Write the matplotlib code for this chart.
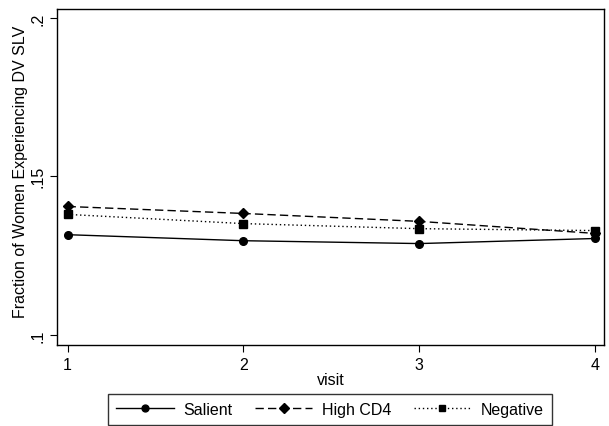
import matplotlib
matplotlib.use("Agg")
import matplotlib.pyplot as plt

plt.rcParams["font.family"] = ["Liberation Sans", "DejaVu Sans"]

visits = [1, 2, 3, 4]
salient = [0.1316, 0.1297, 0.1288, 0.1304]
high_cd4 = [0.1405, 0.1383, 0.1358, 0.1320]
negative = [0.1380, 0.1351, 0.1335, 0.1329]
y_ticks = [0.1, 0.15, 0.2]
y_tick_labels = [".1", ".15", ".2"]

FS = 11.5

fig = plt.figure(figsize=(6.09, 4.27), dpi=100)
ax = fig.add_axes([57 / 609, 1 - 346 / 427, (604 - 57) / 609, (346 - 10) / 427])

ax.plot(visits, salient, color="black", lw=1.0, marker="o", ms=5.5, label="Salient")
ax.plot(visits, high_cd4, color="black", lw=1.0, ls=(0, (6, 3)), marker="D", ms=5.5, label="High CD4")
ax.plot(visits, negative, color="black", lw=1.0, ls=(0, (1, 2)), marker="s", ms=5.5, label="Negative")

ax.set_xlim(0.94, 4.05)
ax.set_ylim(0.0968, 0.2028)
ax.set_xticks(visits)
ax.set_yticks(y_ticks)
ax.set_yticklabels(y_tick_labels, rotation=90, va="center")
ax.tick_params(direction="out", length=5, width=0.8, labelsize=FS)
ax.set_xlabel("visit", fontsize=FS, labelpad=0)
ax.set_ylabel("Fraction of Women Experiencing DV SLV", fontsize=FS)
ax.yaxis.set_label_coords(-0.053, 0.5 + 6 / 336)
for s in ax.spines.values():
    s.set_linewidth(1.0)

fig.legend(loc="center", bbox_to_anchor=(330 / 609, 1 - 410.5 / 427), ncol=3, frameon=True,
           fancybox=False, edgecolor="black", fontsize=FS, handlelength=3.6,
           handletextpad=0.6, columnspacing=1.4, borderpad=0.5, markerscale=0.9)

plt.savefig("out.png", dpi=100)
